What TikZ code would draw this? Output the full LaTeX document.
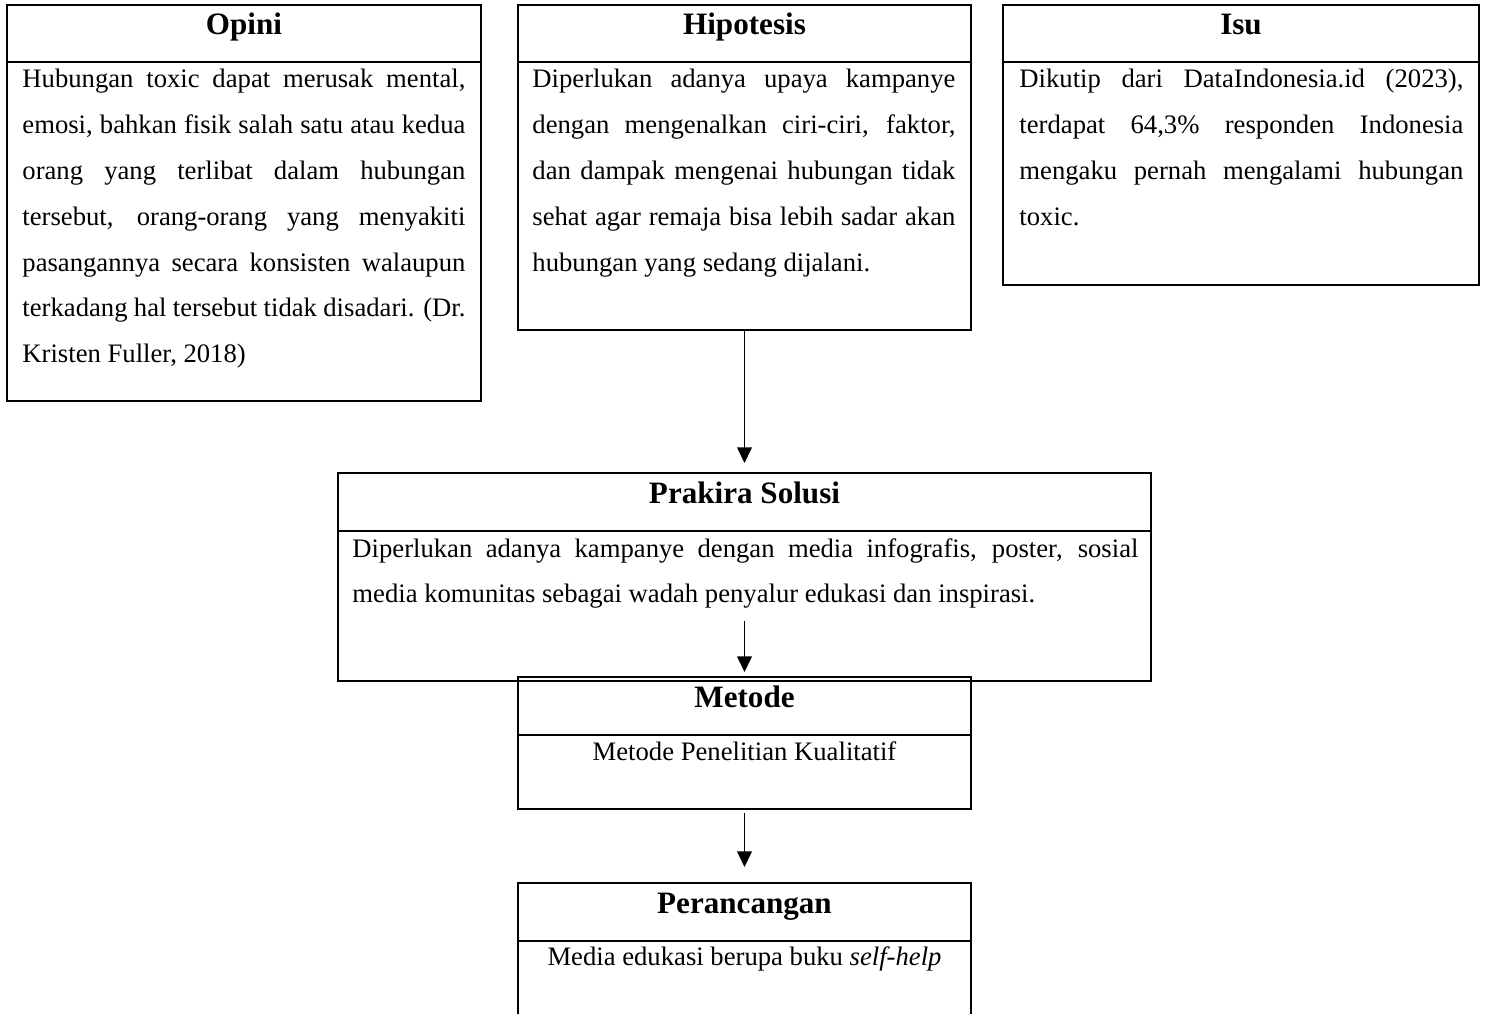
\documentclass[tikz,border=0pt]{standalone}
\usepackage{fontspec}
\setmainfont{Liberation Serif}
\usetikzlibrary{arrows.meta}
\newcommand{\px}{0.45pt}
\hyphenpenalty=10000
\exhyphenpenalty=10000
\tolerance=10000

\begin{document}
\begin{tikzpicture}[x=0.45pt,y=-0.45pt,
  kotak/.style={draw,line width=0.9pt,inner sep=0,outer sep=0,anchor=north west},
  judul/.style={font=\fontsize{14}{16}\selectfont\bfseries,inner sep=0,anchor=base},
  isi/.style={font=\fontsize{12}{20.6}\selectfont,align=justify,inner sep=0,anchor=base west},
  isitengah/.style={font=\fontsize{12}{14}\selectfont,align=center,inner sep=0,anchor=base},
  garis/.style={line width=0.9pt},
  panah/.style={line width=0.6pt,-{Triangle[length=7pt,width=6.6pt]}}]
\useasboundingbox (0,0) rectangle (1486,1014);
\clip (0,0) rectangle (1486,1014);

\node[kotak,minimum width=474*\px,minimum height=396*\px] (opini) at (7,5) {};
\draw[garis] (7,62) -- (481,62);
\node[judul] (opiniJudul) at (244,35) {Opini};
\node[isi,text width=443*\px] (opiniIsi) at (22,88) {Hubungan toxic dapat merusak mental,\linebreak
emosi, bahkan fisik salah satu atau kedua\linebreak
orang yang terlibat dalam hubungan\linebreak
tersebut, orang-orang yang menyakiti\linebreak
pasangannya secara konsisten walaupun\linebreak
terkadang hal tersebut tidak disadari. (Dr.\linebreak
Kristen Fuller, 2018)};

\node[kotak,minimum width=453*\px,minimum height=325*\px] (hipotesis) at (518,5) {};
\draw[garis] (518,62) -- (971,62);
\node[judul] (hipotesisJudul) at (744.5,35) {Hipotesis};
\node[isi,text width=423*\px] (hipotesisIsi) at (532,88) {Diperlukan adanya upaya kampanye\linebreak
dengan mengenalkan ciri-ciri, faktor,\linebreak
dan dampak mengenai hubungan tidak\linebreak
sehat agar remaja bisa lebih sadar akan\linebreak
hubungan yang sedang dijalani.};

\node[kotak,minimum width=476*\px,minimum height=280*\px] (isu) at (1003,5) {};
\draw[garis] (1003,62) -- (1479,62);
\node[judul] (isuJudul) at (1241,35) {Isu};
\node[isi,text width=444*\px] (isuIsi) at (1019,88) {Dikutip dari DataIndonesia.id (2023),\linebreak
terdapat 64,3\% responden Indonesia\linebreak
mengaku pernah mengalami hubungan\linebreak
toxic.};

\node[kotak,minimum width=813*\px,minimum height=208*\px] (prakira) at (338,473) {};
\draw[garis] (338,531) -- (1151,531);
\node[judul] (prakiraJudul) at (744.5,503) {Prakira Solusi};
\node[isi,text width=786*\px] (prakiraIsi) at (352,557) {Diperlukan adanya kampanye dengan media infografis, poster, sosial\linebreak
media komunitas sebagai wadah penyalur edukasi dan inspirasi.};
\coordinate (prakiraPanah) at (744.5,621);

\node[kotak,minimum width=453*\px,minimum height=132*\px] (metode) at (518,677) {};
\draw[garis] (518,735) -- (971,735);
\node[judul] (metodeJudul) at (744.5,707) {Metode};
\node[isitengah] (metodeIsi) at (744.5,760) {Metode Penelitian Kualitatif};

\node[kotak,minimum width=453*\px,minimum height=160*\px] (perancangan) at (518,883) {};
\draw[garis] (518,941) -- (971,941);
\node[judul] (perancanganJudul) at (744.5,913) {Perancangan};
\node[isitengah] (perancanganIsi) at (744.5,965) {Media edukasi berupa buku \textit{self-help}};

\draw[panah,shorten >=10*\px] (hipotesis) -- (prakira);
\draw[panah,shorten >=5*\px] (prakiraPanah) -- (metode.north);
\draw[panah,shorten <=4*\px,shorten >=16*\px] (metode) -- (perancangan);
\end{tikzpicture}
\end{document}
